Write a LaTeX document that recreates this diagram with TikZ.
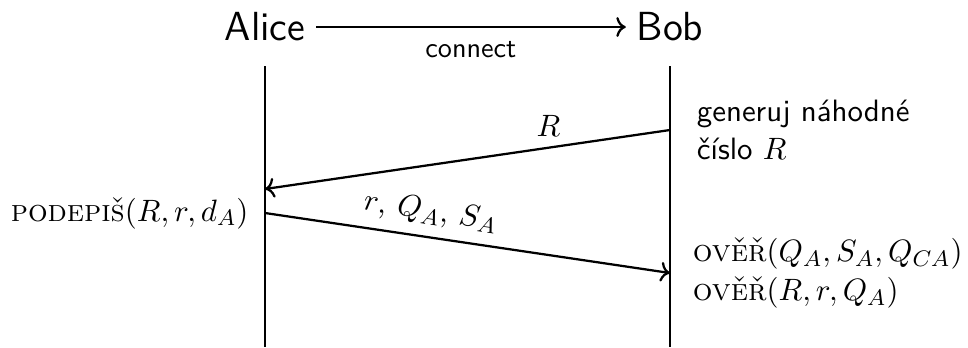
\documentclass[tikz,border=0pt,11pt]{standalone}
\usetikzlibrary{positioning, arrows.meta}
\begin{document}
\begin{tikzpicture}[
    x=0.3546pt, y=-0.3546pt,
    actor/.style={font=\sffamily\Large},
    life/.style={thick, draw=black},
    msg/.style={->, thick},
    note/.style={align=left, font=\sffamily},
    proc/.style={align=left}
  ]
  \useasboundingbox (0,0) rectangle (968,347);
  % participants
  \node[actor] (alice) at (265,27) {Alice};
  \node[actor] (bob) at (670,27) {Bob};
  \draw[msg] (alice) -- node[below=1pt, font=\sffamily\small] (connect) {connect} (bob);
  % lifelines
  \coordinate[below=5pt of alice.south] (aliceTop);
  \coordinate[below=5pt of bob.south] (bobTop);
  \coordinate (aliceEnd) at (aliceTop |- 0,347);
  \coordinate (bobEnd) at (bobTop |- 0,347);
  \draw[life] (aliceTop) -- (aliceEnd);
  \draw[life] (bobTop) -- (bobEnd);
  % message points
  \coordinate (rOut) at (bobTop |- 0,130);
  \coordinate (rIn) at (aliceTop |- 0,189);
  \coordinate (sigOut) at (aliceTop |- 0,213);
  \coordinate (sigIn) at (bobTop |- 0,273);
  \draw[msg] (rOut) -- node[pos=0.3, above] (rLabel) {$R$} (rIn);
  \draw[msg] (sigOut) -- node[pos=0.4, above, sloped] (sigLabel) {$r$, $Q_A$, $S_A$} (sigIn);
  % actions
  \node[note, right=2mm of rOut] (gen) {generuj náhodné\\číslo $R$};
  \node[left=2pt of sigOut] (sign) {\textsc{podepiš}$(R, r, d_A)$};
  \node[proc, right=1.5mm of sigIn] (verify) {\textsc{ověř}$(Q_A, S_A, Q_{CA})$\\\textsc{ověř}$(R, r, Q_A)$};
\end{tikzpicture}
\end{document}
